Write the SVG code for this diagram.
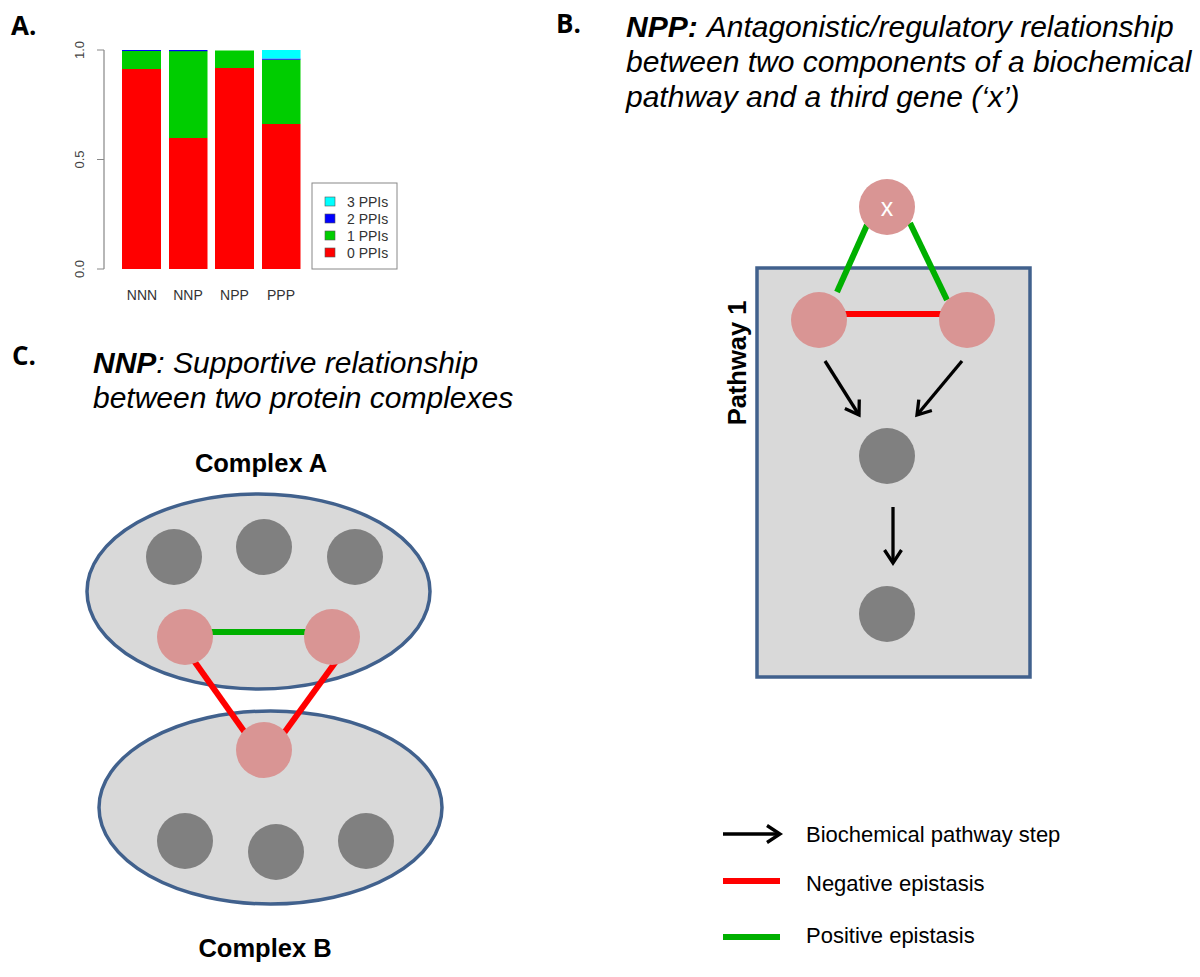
<svg xmlns="http://www.w3.org/2000/svg" width="1200" height="977" viewBox="0 0 1200 977">
<style>
.panel{font-family:"Open Sans","Liberation Sans",sans-serif;font-weight:700;font-size:26px;fill:#000}
.head{font-family:"Liberation Sans",Arial,sans-serif;font-style:italic;font-size:30px;fill:#000}
.bi{font-weight:700}
.lbl{font-family:"Liberation Sans",Arial,sans-serif;font-weight:700;font-size:25.5px;fill:#000}
.leg{font-family:"Liberation Sans",Arial,sans-serif;font-size:22px;fill:#000}
.ax{font-family:"Liberation Sans",Arial,sans-serif;font-size:14px;fill:#333}
.tick{font-family:"Liberation Sans",Arial,sans-serif;font-size:13px;fill:#444}
.box{fill:#d9d9d9;stroke:#41618d;stroke-width:3.5}
.pink{fill:#d99594}
.gray{fill:#808080}
.neg{stroke:#ff0000;stroke-width:6;fill:none}
.pos{stroke:#00b000;stroke-width:6;fill:none}
.step{stroke:#000;stroke-width:3.3;fill:none;marker-end:url(#arr)}
.axis{stroke:#888;stroke-width:1.2;fill:none}
</style>
<defs>
<marker id="arr" markerUnits="userSpaceOnUse" markerWidth="24" markerHeight="24" viewBox="0 0 24 24" refX="20" refY="12" orient="auto">
<path d="M7,3.5 L20,12 L7,20.5" fill="none" stroke="#000" stroke-width="3.3"/>
</marker>
</defs>
<rect width="1200" height="977" fill="#fff"/>

<!-- Panel A: bar chart -->
<g id="panelA">
<text class="panel" x="11" y="35">A.</text>
<path class="axis" d="M104,50 V269 M97,50 H104 M97,159.5 H104 M97,269 H104"/>
<text class="tick" transform="translate(84,50) rotate(-90)" text-anchor="middle">1.0</text>
<text class="tick" transform="translate(84,159.5) rotate(-90)" text-anchor="middle">0.5</text>
<text class="tick" transform="translate(84,269) rotate(-90)" text-anchor="middle">0.0</text>
<g id="bar-NNN">
<rect x="122" y="69" width="39" height="200" fill="#ff0000"/>
<rect x="122" y="50.8" width="39" height="18.2" fill="#00cd00"/>
<rect x="122" y="50" width="39" height="1" fill="#0000ff"/>
</g>
<g id="bar-NNP">
<rect x="169" y="138" width="38.5" height="131" fill="#ff0000"/>
<rect x="169" y="51" width="38.5" height="87" fill="#00cd00"/>
<rect x="169" y="50" width="38.5" height="1.2" fill="#0000ff"/>
</g>
<g id="bar-NPP">
<rect x="215" y="68" width="39" height="201" fill="#ff0000"/>
<rect x="215" y="50.5" width="39" height="17.5" fill="#00cd00"/>
</g>
<g id="bar-PPP">
<rect x="262" y="124" width="38.5" height="145" fill="#ff0000"/>
<rect x="262" y="59.5" width="38.5" height="64.5" fill="#00cd00"/>
<rect x="262" y="58.5" width="38.5" height="1.2" fill="#0000ff"/>
<rect x="262" y="50" width="38.5" height="8.5" fill="#00ffff"/>
</g>
<text class="ax" x="142" y="300" text-anchor="middle">NNN</text>
<text class="ax" x="188" y="300" text-anchor="middle">NNP</text>
<text class="ax" x="234.5" y="300" text-anchor="middle">NPP</text>
<text class="ax" x="281" y="300" text-anchor="middle">PPP</text>
<g id="chart-legend">
<rect x="312" y="183" width="85" height="86" fill="#fff" stroke="#888" stroke-width="1"/>
<rect x="325" y="197" width="10" height="9" fill="#00ffff" stroke="#555" stroke-width="0.6"/>
<rect x="325" y="214" width="10" height="9" fill="#0000ff" stroke="#555" stroke-width="0.6"/>
<rect x="325" y="231" width="10" height="9" fill="#00cd00" stroke="#555" stroke-width="0.6"/>
<rect x="325" y="248" width="10" height="9" fill="#ff0000" stroke="#555" stroke-width="0.6"/>
<text class="ax" x="347" y="207">3 PPIs</text>
<text class="ax" x="347" y="224">2 PPIs</text>
<text class="ax" x="347" y="241">1 PPIs</text>
<text class="ax" x="347" y="258">0 PPIs</text>
</g>
</g>

<!-- Panel B heading -->
<text class="panel" x="556" y="33">B.</text>
<text class="head" x="626" y="37"><tspan class="bi">NPP:</tspan><tspan dx="9">Antagonistic/regulatory relationship</tspan></text>
<text class="head" x="626" y="72">between two components of a biochemical</text>
<text class="head" x="626" y="107">pathway and a third gene (‘x’)</text>

<!-- Panel C heading -->
<text class="panel" x="12" y="365">C.</text>
<text class="head" x="93" y="373"><tspan class="bi">NNP</tspan>: Supportive relationship</text>
<text class="head" x="93" y="408">between two protein complexes</text>

<!-- Containers -->
<g id="pathway1">
<rect class="box" x="757" y="268" width="273" height="409"/>
<text class="lbl" transform="translate(746,363) rotate(-90)" text-anchor="middle">Pathway 1</text>
</g>
<g id="complexA">
<ellipse class="box" cx="258.5" cy="591.5" rx="171.5" ry="97.5"/>
<text class="lbl" x="261" y="472" text-anchor="middle">Complex A</text>
</g>
<g id="complexB">
<ellipse class="box" cx="270.5" cy="807.5" rx="171.5" ry="96.5"/>
<text class="lbl" x="265" y="957" text-anchor="middle">Complex B</text>
</g>

<!-- Connectors -->
<g id="connectors">
<line class="pos" x1="867" y1="225" x2="837" y2="292"/>
<line class="pos" x1="910" y1="223" x2="947" y2="300"/>
<line class="neg" x1="845" y1="314" x2="941" y2="314"/>
<line class="step" x1="825" y1="361" x2="859" y2="415"/>
<line class="step" x1="962" y1="361" x2="917" y2="415"/>
<line class="step" x1="893" y1="507" x2="893" y2="563"/>
<line class="pos" x1="210" y1="632" x2="308" y2="632"/>
<line class="neg" x1="192" y1="658" x2="246" y2="734"/>
<line class="neg" x1="337" y1="660" x2="284" y2="733"/>
</g>

<!-- Nodes panel B -->
<g id="node-x"><circle class="pink" cx="887" cy="207" r="28"/><text x="887" y="216" text-anchor="middle" font-family="Liberation Sans, Arial, sans-serif" font-size="25" fill="#fff">x</text></g>
<g id="node-b1"><circle class="pink" cx="819" cy="320" r="28"/></g>
<g id="node-b2"><circle class="pink" cx="967" cy="320" r="28"/></g>
<g id="node-b3"><circle class="gray" cx="887" cy="456" r="28"/></g>
<g id="node-b4"><circle class="gray" cx="887" cy="614" r="28"/></g>

<!-- Nodes complex A -->
<g id="node-a1"><circle class="gray" cx="174" cy="557" r="28"/></g>
<g id="node-a2"><circle class="gray" cx="264" cy="547" r="28"/></g>
<g id="node-a3"><circle class="gray" cx="355" cy="557" r="28"/></g>
<g id="node-a4"><circle class="pink" cx="185" cy="637" r="28"/></g>
<g id="node-a5"><circle class="pink" cx="332" cy="637" r="28"/></g>

<!-- Nodes complex B -->
<g id="node-c1"><circle class="pink" cx="264" cy="750" r="28"/></g>
<g id="node-c2"><circle class="gray" cx="185" cy="841" r="28"/></g>
<g id="node-c3"><circle class="gray" cx="276" cy="852" r="28"/></g>
<g id="node-c4"><circle class="gray" cx="366" cy="841" r="28"/></g>

<!-- Legend -->
<g id="legend">
<line class="step" x1="723" y1="834" x2="780" y2="834"/>
<text class="leg" x="806" y="842">Biochemical pathway step</text>
<line class="neg" x1="723" y1="881" x2="780" y2="881"/>
<text class="leg" x="806" y="891">Negative epistasis</text>
<line class="pos" x1="723" y1="937" x2="780" y2="937"/>
<text class="leg" x="806" y="943">Positive epistasis</text>
</g>
</svg>
